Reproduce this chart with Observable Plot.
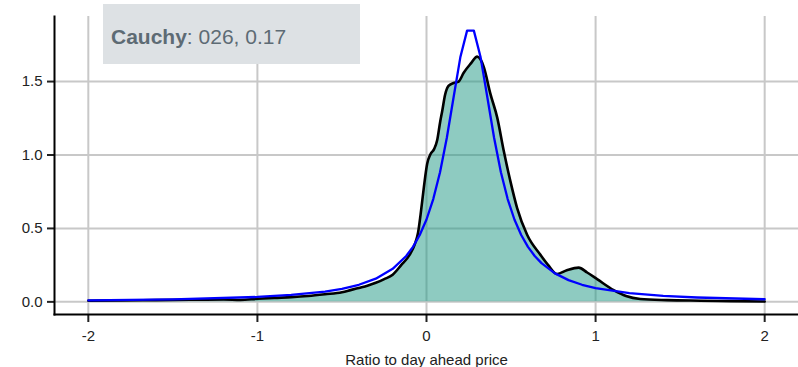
<!DOCTYPE html>
<html>
<head>
<meta charset="utf-8">
<script src="https://cdn.jsdelivr.net/npm/d3@7"></script>
<script src="https://cdn.jsdelivr.net/npm/@observablehq/plot@0.6"></script>
<style>
  body { margin: 0; background: #fff; }
  #wrap { position: relative; width: 798px; height: 367px; font-family: Arial, "Liberation Sans", sans-serif; }
  #badge {
    position: absolute; left: 103px; top: 4px; width: 249px; height: 38px;
    padding: 22px 0 0 8px; background: #dde1e4; color: #5d6b74;
    font-size: 21px; line-height: 21px; white-space: nowrap;
  }
  #badge b { font-weight: bold; }
</style>
</head>
<body>
<div id="wrap"><div id="badge"></div></div>
<script>
// Empirical density of the price ratio
const densX = [-2.0, -1.8, -1.6, -1.4, -1.2, -1.1, -1.0, -0.9, -0.8, -0.7, -0.6, -0.5, -0.45, -0.4, -0.35, -0.3, -0.25, -0.2, -0.15, -0.1, -0.07, -0.05, -0.035, -0.016, 0.004, 0.024, 0.045, 0.063, 0.08, 0.093, 0.11, 0.13, 0.16, 0.19, 0.22, 0.26, 0.30, 0.32, 0.339, 0.378, 0.418, 0.457, 0.496, 0.536, 0.595, 0.674, 0.72, 0.772, 0.83, 0.90, 0.95, 1.009, 1.107, 1.18, 1.264, 1.422, 1.62, 1.8, 2.0];
const densY = [0.008, 0.010, 0.012, 0.014, 0.016, 0.013, 0.021, 0.027, 0.032, 0.040, 0.052, 0.066, 0.080, 0.095, 0.110, 0.130, 0.155, 0.185, 0.250, 0.320, 0.390, 0.470, 0.594, 0.776, 0.940, 1.007, 1.040, 1.100, 1.220, 1.300, 1.410, 1.470, 1.490, 1.500, 1.560, 1.620, 1.670, 1.650, 1.598, 1.416, 1.256, 1.027, 0.822, 0.639, 0.457, 0.320, 0.250, 0.190, 0.215, 0.233, 0.200, 0.155, 0.080, 0.040, 0.020, 0.012, 0.008, 0.005, 0.002];

// Fitted Cauchy density (location 0.26, scale 0.17)
const fitX = [-2.0, -1.5, -1.0, -0.8, -0.6, -0.5, -0.4, -0.3, -0.2, -0.12, -0.08, -0.04, 0.0, 0.04, 0.08, 0.12, 0.16, 0.20, 0.24, 0.28, 0.32, 0.36, 0.40, 0.44, 0.48, 0.52, 0.56, 0.60, 0.64, 0.68, 0.76, 0.84, 0.92, 1.0, 1.2, 1.4, 1.6, 2.0];
const fitY = [0.0105, 0.0173, 0.0335, 0.0470, 0.0704, 0.0892, 0.1165, 0.1580, 0.2250, 0.3122, 0.3745, 0.4551, 0.5608, 0.7000, 0.8828, 1.1157, 1.3911, 1.6650, 1.8468, 1.8468, 1.6650, 1.3911, 1.1157, 0.8828, 0.7000, 0.5608, 0.4551, 0.3745, 0.3122, 0.2636, 0.1940, 0.1481, 0.1165, 0.0939, 0.0593, 0.0407, 0.0297, 0.0177];

const xTicks = [-2, -1, 0, 1, 2];
const yTicks = [0, 0.5, 1, 1.5];
const fitName = "Cauchy";
const fitParams = "026, 0.17";
const xTitle = "Ratio to day ahead price";

const dens = densX.map((x, i) => ({x, y: densY[i]}));
const fit = fitX.map((x, i) => ({x, y: fitY[i]}));

const badge = document.getElementById("badge");
const b = document.createElement("b");
b.textContent = fitName;
badge.appendChild(b);
badge.appendChild(document.createTextNode(": " + fitParams));

const grid = "#c8c8c8";
const chart = Plot.plot({
  width: 798,
  height: 367,
  marginLeft: 54,
  marginRight: 0,
  marginTop: 16,
  marginBottom: 53,
  style: {fontFamily: "Arial, 'Liberation Sans', sans-serif", fontSize: "15px", color: "#222", background: "white"},
  x: {domain: [-2.2, 2.2], axis: null},
  y: {domain: [-0.086, 1.943], axis: null},
  marks: [
    Plot.ruleX(xTicks, {stroke: grid, strokeWidth: 2}),
    Plot.ruleY(yTicks, {stroke: grid, strokeWidth: 2}),
    Plot.areaY(dens, {x: "x", y: "y", fill: "#1d9784", fillOpacity: 0.5, curve: "monotone-x"}),
    Plot.lineY(dens, {x: "x", y: "y", stroke: "black", strokeWidth: 2.6, curve: "monotone-x"}),
    Plot.lineY(fit, {x: "x", y: "y", stroke: "blue", strokeWidth: 2.3}),
    Plot.axisY({ticks: yTicks, tickFormat: d3.format(".1f"), tickSize: 7, tickPadding: 5, strokeWidth: 2, stroke: "#222", fontSize: 15, label: null}),
    Plot.axisX({ticks: xTicks, tickFormat: d => String(d), tickSize: 8, tickPadding: 8, strokeWidth: 2, stroke: "#222", fontSize: 15,
      label: xTitle, labelAnchor: "center", labelArrow: "none", labelOffset: 50}),
    Plot.frame({anchor: "left", stroke: "black", strokeWidth: 2}),
    Plot.frame({anchor: "bottom", stroke: "black", strokeWidth: 2})
  ]
});
document.getElementById("wrap").prepend(chart);
chart.style.position = "absolute";
chart.style.left = "0";
chart.style.top = "0";
</script>
</body>
</html>
